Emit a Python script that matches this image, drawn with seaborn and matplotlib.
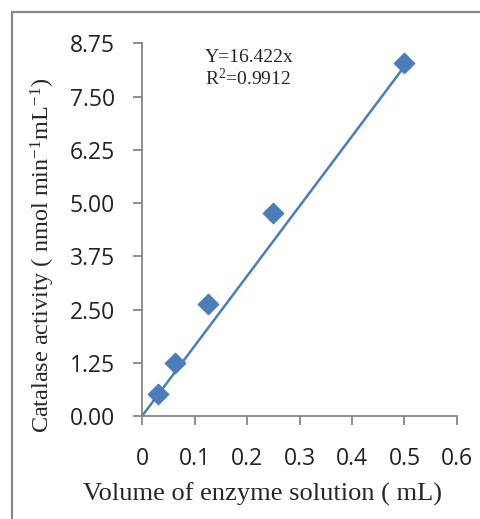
import numpy as np
import pandas as pd
import matplotlib
matplotlib.use('Agg')
import matplotlib.pyplot as plt
import seaborn as sns
from matplotlib.patches import Rectangle

# data
volume = [0.03125, 0.0625, 0.125, 0.25, 0.5]
activity = [0.51, 1.24, 2.62, 4.76, 8.29]
slope = 16.422
r2 = 0.9912
fit_x = [0, 0.5]
x_ticks = [0, 0.1, 0.2, 0.3, 0.4, 0.5, 0.6]
y_ticks = [0, 1.25, 2.5, 3.75, 5.0, 6.25, 7.5, 8.75]

df = pd.DataFrame({'volume': volume, 'activity': activity})
fit = pd.DataFrame({'volume': fit_x, 'activity': [slope * v for v in fit_x]})

blue = '#4a7ebb'
grey = '#868686'

sns.set_style('ticks')
plt.rcParams['mathtext.fontset'] = 'custom'
plt.rcParams['mathtext.rm'] = 'Liberation Serif'
plt.rcParams['mathtext.it'] = 'Liberation Serif:italic'

fig = plt.figure(figsize=(4.8, 5.19), dpi=100)
ax = fig.add_axes([0.296, 0.1985, 0.656, 0.718])

sns.lineplot(data=fit, x='volume', y='activity', ax=ax, color=blue, linewidth=1.8)
sns.scatterplot(data=df, x='volume', y='activity', ax=ax, marker='D', s=110,
                color=blue, edgecolor=blue, zorder=3)

ax.set_xlim(0, 0.6)
ax.set_ylim(0, 8.75)
ax.set_xticks(x_ticks)
ax.set_xticklabels(['0' if t == 0 else f'{t:.1f}' for t in x_ticks])
ax.set_yticks(y_ticks)
ax.set_yticklabels([f'{t:.2f}' for t in y_ticks])
for lab in ax.get_xticklabels() + ax.get_yticklabels():
    lab.set_fontfamily('Open Sans')
    lab.set_fontsize(16.5)
    lab.set_color('#222222')

sns.despine(ax=ax)
for s in ['left', 'bottom']:
    ax.spines[s].set_color(grey)
    ax.spines[s].set_linewidth(1.3)
ax.tick_params(axis='both', which='major', direction='out', length=6.5, width=1.3,
               color=grey)
ax.tick_params(axis='x', pad=16)
ax.tick_params(axis='y', pad=13)

ax.set_xlabel('Volume of enzyme solution ( mL)', fontfamily='Liberation Serif',
              fontsize=19)
ax.set_ylabel(r'Catalase activity ( nmol min$^{-1}$mL$^{-1}$)',
              fontfamily='Liberation Serif', fontsize=17.5)
ax.xaxis.set_label_coords(0.381, -0.18)
ax.yaxis.set_label_coords(-0.27, 0.43)

ax.text(0.2, 0.962, f'Y={slope}x', transform=ax.transAxes,
        fontfamily='Liberation Serif', fontsize=14, va='center')
ax.text(0.2, 0.906, r'R$^{2}$=' + f'{r2}', transform=ax.transAxes,
        fontfamily='Liberation Serif', fontsize=14, va='center')

fig.patches.append(Rectangle((0.025, -0.1), 1.2, 1.077, transform=fig.transFigure,
                             fill=False, edgecolor='#888888', linewidth=1.6))

fig.savefig('out.png', dpi=100)
